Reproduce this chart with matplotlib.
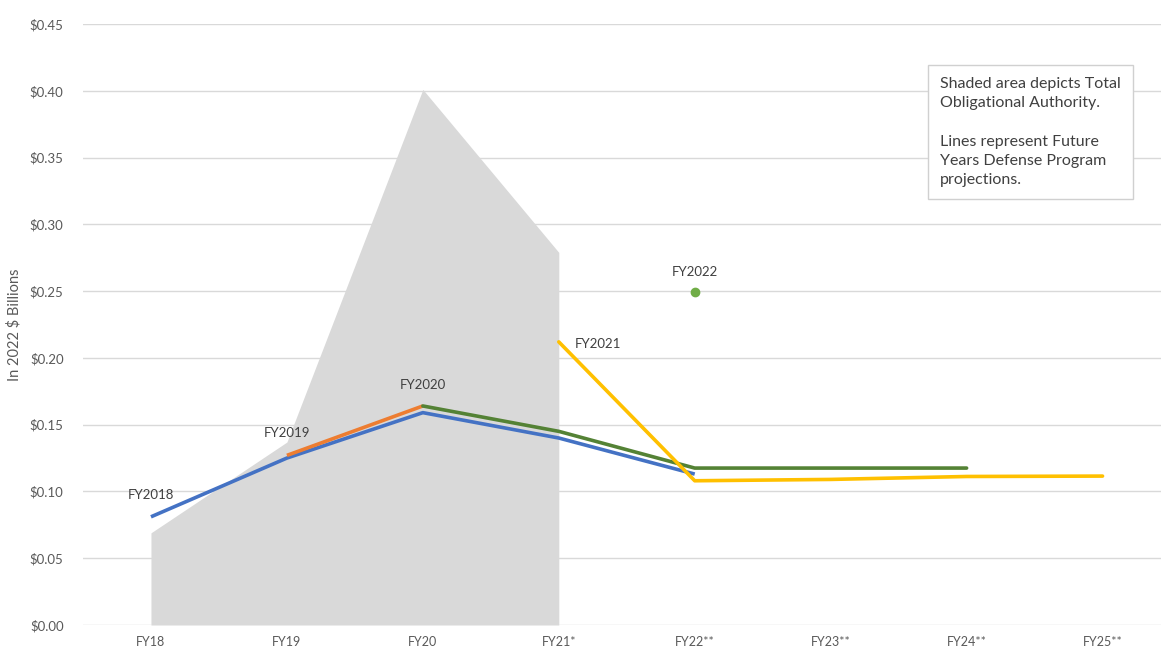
import matplotlib
matplotlib.use("Agg")
import matplotlib.pyplot as plt

categories = ["FY18", "FY19", "FY20", "FY21*", "FY22**", "FY23**", "FY24**", "FY25**"]
toa_values = [0.069, 0.137, 0.401, 0.279]           # shaded area FY18-FY21
fy2018_line = [0.081, 0.125, 0.159, 0.140, 0.113]   # FY18-FY22
fy2019_line = [0.127, 0.164]                         # FY19-FY20
fy2020_line = [0.164, 0.145, 0.1175, 0.1175, 0.1175] # FY20-FY24
fy2021_line = [0.212, 0.108, 0.109, 0.1112, 0.1115] # FY21-FY25
fy2022_point = 0.249                                 # FY22
y_ticks = [0.00, 0.05, 0.10, 0.15, 0.20, 0.25, 0.30, 0.35, 0.40, 0.45]

plt.rcParams['font.family'] = ['Lato', 'DejaVu Sans']

fig = plt.figure(figsize=(11.61, 6.52), dpi=100)
ax = fig.add_axes([83 / 1161, 1 - 625 / 652, 1 - 83 / 1161, (625 - 24) / 652])

x_all = list(range(len(categories)))

ax.fill_between(x_all[:4], 0, toa_values, color="#D9D9D9", lw=0, zorder=1)

ax.plot(x_all[0:5], fy2018_line, color="#4472C4", lw=2.6, zorder=3, solid_capstyle="butt")
ax.plot(x_all[1:3], fy2019_line, color="#ED7D31", lw=2.6, zorder=3, solid_capstyle="butt")
ax.plot(x_all[2:7], fy2020_line, color="#548235", lw=2.6, zorder=4, solid_capstyle="round")
ax.plot(x_all[3:8], fy2021_line, color="#FFC000", lw=2.6, zorder=5, solid_capstyle="round")
ax.plot([4], [fy2022_point], "o", color="#70AD47", ms=6, zorder=5)

lab_kw = dict(fontsize=9.5, color="#404040", zorder=6)
ax.text(0, 0.0973, "FY2018", ha="center", va="center", **lab_kw)
ax.text(1, 0.1437, "FY2019", ha="center", va="center", **lab_kw)
ax.text(2, 0.1796, "FY2020", ha="center", va="center", **lab_kw)
ax.text(3.12, 0.2103, "FY2021", ha="left", va="center", **lab_kw)
ax.text(4, 0.264, "FY2022", ha="center", va="center", **lab_kw)

ax.set_xlim(-0.5, 7.43)
ax.set_ylim(0, 0.45)
ax.set_yticks(y_ticks)
ax.set_yticklabels([f"${v:.2f}" for v in y_ticks])
ax.set_xticks(x_all)
ax.set_xticklabels(categories)
ax.yaxis.grid(True, color="#D9D9D9", lw=1)
ax.set_axisbelow(True)
for s in ax.spines.values():
    s.set_visible(False)
ax.tick_params(axis="y", length=0, labelsize=9.5, labelcolor="#595959", pad=14)
ax.tick_params(axis="x", length=0, labelsize=9, labelcolor="#595959", pad=8)
ax.set_ylabel("In 2022 $ Billions", fontsize=10.5, color="#595959", labelpad=6)

fig.text(940 / 1161, 1 - 77 / 652,
         "Shaded area depicts Total\nObligational Authority.\n\nLines represent Future\nYears Defense Program\nprojections.",
         fontsize=11.5, color="#404040", va="top", ha="left", linespacing=1.48,
         bbox=dict(boxstyle="square,pad=0.75", fc="white", ec="#D0D0D0", lw=1))

fig.savefig("out.png", dpi=100)
